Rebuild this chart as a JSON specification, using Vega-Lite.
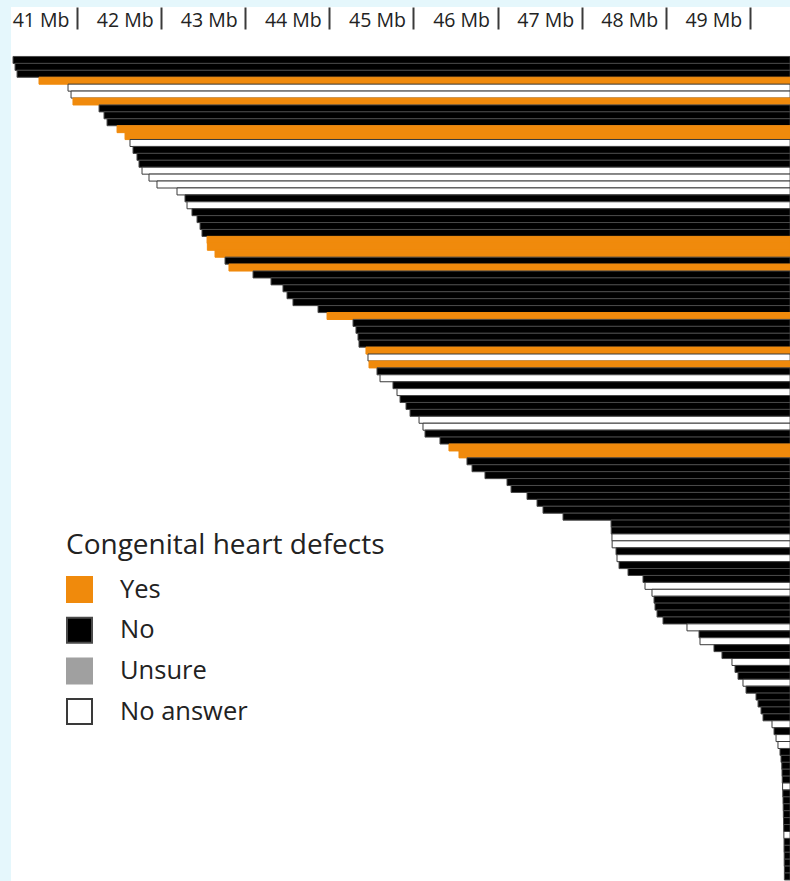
{
  "$schema": "https://vega.github.io/schema/vega-lite/v6.json",
  "width": 779,
  "height": 874,
  "autosize": {"type": "none"},
  "padding": {"left": 11, "top": 7, "right": 0, "bottom": 0},
  "background": "#e5f7fc",
  "config": {
    "view": {"fill": "white", "stroke": null},
    "font": "Open Sans"
  },
  "data": {
    "values": [
      {"row": 1, "start": 40.239, "end": 49.48, "answer": "No"},
      {"row": 2, "start": 40.263, "end": 49.48, "answer": "No"},
      {"row": 3, "start": 40.287, "end": 49.48, "answer": "No"},
      {"row": 4, "start": 40.548, "end": 49.48, "answer": "Yes"},
      {"row": 5, "start": 40.893, "end": 49.48, "answer": "No answer"},
      {"row": 6, "start": 40.929, "end": 49.48, "answer": "No answer"},
      {"row": 7, "start": 40.952, "end": 49.48, "answer": "Yes"},
      {"row": 8, "start": 41.262, "end": 49.48, "answer": "No"},
      {"row": 9, "start": 41.321, "end": 49.48, "answer": "No"},
      {"row": 10, "start": 41.357, "end": 49.48, "answer": "No"},
      {"row": 11, "start": 41.476, "end": 49.48, "answer": "Yes"},
      {"row": 12, "start": 41.571, "end": 49.48, "answer": "Yes"},
      {"row": 13, "start": 41.630, "end": 49.48, "answer": "No answer"},
      {"row": 14, "start": 41.666, "end": 49.48, "answer": "No"},
      {"row": 15, "start": 41.713, "end": 49.48, "answer": "No"},
      {"row": 16, "start": 41.737, "end": 49.48, "answer": "No"},
      {"row": 17, "start": 41.773, "end": 49.48, "answer": "No answer"},
      {"row": 18, "start": 41.856, "end": 49.48, "answer": "No answer"},
      {"row": 19, "start": 41.951, "end": 49.48, "answer": "No answer"},
      {"row": 20, "start": 42.189, "end": 49.48, "answer": "No answer"},
      {"row": 21, "start": 42.284, "end": 49.48, "answer": "No"},
      {"row": 22, "start": 42.308, "end": 49.48, "answer": "No answer"},
      {"row": 23, "start": 42.367, "end": 49.48, "answer": "No"},
      {"row": 24, "start": 42.427, "end": 49.48, "answer": "No"},
      {"row": 25, "start": 42.463, "end": 49.48, "answer": "No"},
      {"row": 26, "start": 42.486, "end": 49.48, "answer": "No"},
      {"row": 27, "start": 42.546, "end": 49.48, "answer": "Yes"},
      {"row": 28, "start": 42.550, "end": 49.48, "answer": "Yes"},
      {"row": 29, "start": 42.641, "end": 49.48, "answer": "Yes"},
      {"row": 30, "start": 42.760, "end": 49.48, "answer": "No"},
      {"row": 31, "start": 42.807, "end": 49.48, "answer": "Yes"},
      {"row": 32, "start": 43.093, "end": 49.48, "answer": "No"},
      {"row": 33, "start": 43.307, "end": 49.48, "answer": "No"},
      {"row": 34, "start": 43.449, "end": 49.48, "answer": "No"},
      {"row": 35, "start": 43.497, "end": 49.48, "answer": "No"},
      {"row": 36, "start": 43.568, "end": 49.48, "answer": "No"},
      {"row": 37, "start": 43.866, "end": 49.48, "answer": "No"},
      {"row": 38, "start": 43.973, "end": 49.48, "answer": "Yes"},
      {"row": 39, "start": 44.282, "end": 49.48, "answer": "No"},
      {"row": 40, "start": 44.317, "end": 49.48, "answer": "No"},
      {"row": 41, "start": 44.341, "end": 49.48, "answer": "No"},
      {"row": 42, "start": 44.353, "end": 49.48, "answer": "No"},
      {"row": 43, "start": 44.436, "end": 49.48, "answer": "Yes"},
      {"row": 44, "start": 44.460, "end": 49.48, "answer": "No answer"},
      {"row": 45, "start": 44.472, "end": 49.48, "answer": "Yes"},
      {"row": 46, "start": 44.567, "end": 49.48, "answer": "No"},
      {"row": 47, "start": 44.603, "end": 49.48, "answer": "No answer"},
      {"row": 48, "start": 44.757, "end": 49.48, "answer": "No"},
      {"row": 49, "start": 44.805, "end": 49.48, "answer": "No answer"},
      {"row": 50, "start": 44.841, "end": 49.48, "answer": "No"},
      {"row": 51, "start": 44.912, "end": 49.48, "answer": "No"},
      {"row": 52, "start": 44.960, "end": 49.48, "answer": "No"},
      {"row": 53, "start": 45.067, "end": 49.48, "answer": "No answer"},
      {"row": 54, "start": 45.114, "end": 49.48, "answer": "No answer"},
      {"row": 55, "start": 45.138, "end": 49.48, "answer": "No"},
      {"row": 56, "start": 45.316, "end": 49.48, "answer": "No"},
      {"row": 57, "start": 45.423, "end": 49.48, "answer": "Yes"},
      {"row": 58, "start": 45.542, "end": 49.48, "answer": "Yes"},
      {"row": 59, "start": 45.637, "end": 49.48, "answer": "No"},
      {"row": 60, "start": 45.697, "end": 49.48, "answer": "No"},
      {"row": 61, "start": 45.851, "end": 49.48, "answer": "No"},
      {"row": 62, "start": 46.113, "end": 49.48, "answer": "No"},
      {"row": 63, "start": 46.161, "end": 49.48, "answer": "No"},
      {"row": 64, "start": 46.351, "end": 49.48, "answer": "No"},
      {"row": 65, "start": 46.470, "end": 49.48, "answer": "No"},
      {"row": 66, "start": 46.541, "end": 49.48, "answer": "No"},
      {"row": 67, "start": 46.779, "end": 49.48, "answer": "No"},
      {"row": 68, "start": 47.350, "end": 49.48, "answer": "No"},
      {"row": 69, "start": 47.352, "end": 49.48, "answer": "No"},
      {"row": 70, "start": 47.361, "end": 49.48, "answer": "No answer"},
      {"row": 71, "start": 47.363, "end": 49.48, "answer": "No answer"},
      {"row": 72, "start": 47.409, "end": 49.48, "answer": "No"},
      {"row": 73, "start": 47.421, "end": 49.48, "answer": "No answer"},
      {"row": 74, "start": 47.445, "end": 49.48, "answer": "No"},
      {"row": 75, "start": 47.552, "end": 49.48, "answer": "No"},
      {"row": 76, "start": 47.730, "end": 49.48, "answer": "No"},
      {"row": 77, "start": 47.754, "end": 49.48, "answer": "No answer"},
      {"row": 78, "start": 47.837, "end": 49.48, "answer": "No answer"},
      {"row": 79, "start": 47.861, "end": 49.48, "answer": "No"},
      {"row": 80, "start": 47.873, "end": 49.48, "answer": "No"},
      {"row": 81, "start": 47.897, "end": 49.48, "answer": "No"},
      {"row": 82, "start": 47.968, "end": 49.48, "answer": "No"},
      {"row": 83, "start": 48.253, "end": 49.48, "answer": "No answer"},
      {"row": 84, "start": 48.396, "end": 49.48, "answer": "No"},
      {"row": 85, "start": 48.408, "end": 49.48, "answer": "No answer"},
      {"row": 86, "start": 48.574, "end": 49.48, "answer": "No"},
      {"row": 87, "start": 48.669, "end": 49.48, "answer": "No"},
      {"row": 88, "start": 48.788, "end": 49.48, "answer": "No answer"},
      {"row": 89, "start": 48.824, "end": 49.48, "answer": "No"},
      {"row": 90, "start": 48.860, "end": 49.48, "answer": "No"},
      {"row": 91, "start": 48.919, "end": 49.48, "answer": "No answer"},
      {"row": 92, "start": 48.955, "end": 49.48, "answer": "No"},
      {"row": 93, "start": 49.074, "end": 49.48, "answer": "No"},
      {"row": 94, "start": 49.098, "end": 49.48, "answer": "No"},
      {"row": 95, "start": 49.133, "end": 49.48, "answer": "No"},
      {"row": 96, "start": 49.157, "end": 49.48, "answer": "No"},
      {"row": 97, "start": 49.264, "end": 49.48, "answer": "No answer"},
      {"row": 98, "start": 49.288, "end": 49.48, "answer": "No"},
      {"row": 99, "start": 49.312, "end": 49.48, "answer": "No answer"},
      {"row": 100, "start": 49.335, "end": 49.48, "answer": "No answer"},
      {"row": 101, "start": 49.359, "end": 49.48, "answer": "No"},
      {"row": 102, "start": 49.371, "end": 49.48, "answer": "No"},
      {"row": 103, "start": 49.380, "end": 49.48, "answer": "No"},
      {"row": 104, "start": 49.383, "end": 49.48, "answer": "No"},
      {"row": 105, "start": 49.386, "end": 49.48, "answer": "No"},
      {"row": 106, "start": 49.390, "end": 49.48, "answer": "No answer"},
      {"row": 107, "start": 49.392, "end": 49.48, "answer": "No"},
      {"row": 108, "start": 49.395, "end": 49.48, "answer": "No"},
      {"row": 109, "start": 49.397, "end": 49.48, "answer": "No"},
      {"row": 110, "start": 49.399, "end": 49.48, "answer": "No"},
      {"row": 111, "start": 49.401, "end": 49.48, "answer": "No"},
      {"row": 112, "start": 49.403, "end": 49.48, "answer": "No"},
      {"row": 113, "start": 49.405, "end": 49.48, "answer": "No answer"},
      {"row": 114, "start": 49.407, "end": 49.48, "answer": "No"},
      {"row": 115, "start": 49.407, "end": 49.48, "answer": "No"},
      {"row": 116, "start": 49.409, "end": 49.48, "answer": "No"},
      {"row": 117, "start": 49.409, "end": 49.48, "answer": "No"},
      {"row": 118, "start": 49.411, "end": 49.48, "answer": "No"},
      {"row": 119, "start": 49.411, "end": 49.48, "answer": "No"}
    ]
  },
  "mark": {"type": "bar", "orient": "horizontal", "size": 7, "strokeWidth": 1, "clip": true},
  "encoding": {
    "y": {
      "field": "row",
      "type": "quantitative",
      "scale": {"domain": [-5.93, 118.93], "reverse": true, "nice": false, "zero": false},
      "axis": null
    },
    "x": {
      "field": "start",
      "type": "quantitative",
      "scale": {"domain": [40.215, 49.478], "nice": false, "zero": false},
      "axis": {
        "orient": "top",
        "values": [41, 42, 43, 44, 45, 46, 47, 48, 49],
        "labelExpr": "datum.value + ' Mb'",
        "title": null,
        "domain": false,
        "grid": false,
        "offset": -22,
        "tickSize": 22,
        "tickWidth": 2,
        "tickColor": "#3a3a3a",
        "labelAlign": "right",
        "labelBaseline": "middle",
        "labelPadding": -13,
        "labelOffset": -8,
        "labelFont": "Open Sans",
        "labelFontSize": 19.5,
        "labelColor": "#222222",
        "labelFlush": false,
        "labelOverlap": false
      }
    },
    "x2": {"field": "end"},
    "color": {
      "field": "answer",
      "type": "nominal",
      "title": "Congenital heart defects",
      "scale": {
        "domain": ["Yes", "No", "Unsure", "No answer"],
        "range": ["#f08a0c", "#000000", "#a0a0a0", "#ffffff"]
      },
      "legend": {
        "orient": "none",
        "legendX": 55,
        "legendY": 525,
        "titleFont": "Open Sans",
        "titleFontSize": 28,
        "titleFontWeight": "normal",
        "titleColor": "#222222",
        "titleLimit": 500,
        "titlePadding": 16,
        "labelFont": "Open Sans",
        "labelFontSize": 25.5,
        "labelColor": "#222222",
        "labelLimit": 400,
        "labelOffset": 27,
        "symbolType": "square",
        "symbolSize": 625,
        "symbolStrokeWidth": 2,
        "rowPadding": 7.7
      }
    },
    "stroke": {
      "field": "answer",
      "type": "nominal",
      "title": "Congenital heart defects",
      "scale": {
        "domain": ["Yes", "No", "Unsure", "No answer"],
        "range": ["#f08a0c", "#4a4a4a", "#a0a0a0", "#3a3a3a"]
      },
      "legend": {
        "orient": "none",
        "legendX": 55,
        "legendY": 525,
        "titleFont": "Open Sans",
        "titleFontSize": 28,
        "titleFontWeight": "normal",
        "titleColor": "#222222",
        "titleLimit": 500,
        "titlePadding": 16,
        "labelFont": "Open Sans",
        "labelFontSize": 25.5,
        "labelColor": "#222222",
        "labelLimit": 400,
        "labelOffset": 27,
        "symbolType": "square",
        "symbolSize": 625,
        "symbolStrokeWidth": 2,
        "rowPadding": 7.7
      }
    }
  }
}
